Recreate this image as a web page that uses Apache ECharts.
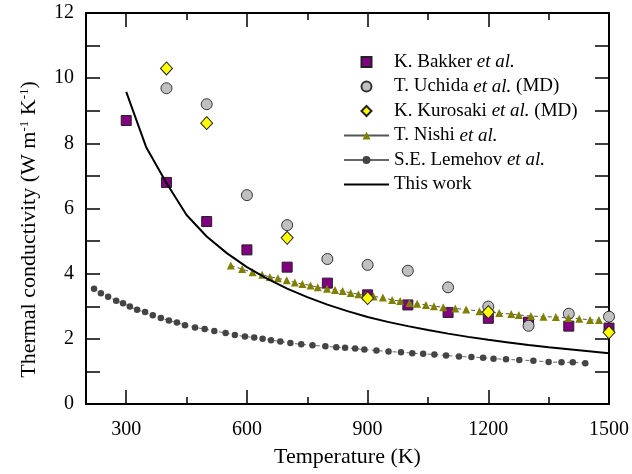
<!DOCTYPE html>
<html>
<head>
<meta charset="utf-8">
<script src="https://cdn.jsdelivr.net/npm/echarts@6/dist/echarts.min.js"></script>
<style>
  html, body { margin: 0; padding: 0; background: #fff; }
  #chart { width: 632px; height: 474px; }
</style>
</head>
<body>
<div id="chart"></div>
<script>
// Thermal conductivity vs temperature: measured, MD and model data
const bakkerT = [300, 400, 500, 600, 700, 800, 900, 1000, 1100, 1200, 1300, 1400, 1500];
const bakkerK = [8.70, 6.80, 5.60, 4.73, 4.20, 3.71, 3.35, 3.04, 2.81, 2.63, 2.51, 2.39, 2.33];

const uchidaT = [400, 500, 600, 700, 800, 900, 1000, 1100, 1200, 1300, 1400, 1500];
const uchidaK = [9.69, 9.20, 6.41, 5.49, 4.45, 4.27, 4.09, 3.58, 2.99, 2.40, 2.77, 2.68];

const kurosakiT = [400, 500, 700, 900, 1200, 1500];
const kurosakiK = [10.30, 8.62, 5.10, 3.25, 2.82, 2.20];

const nishiT = [560, 588, 614, 638, 657, 677, 699, 719, 738, 758, 776, 799, 819, 838, 858,
  877, 895, 915, 938, 961, 981, 1004, 1023, 1045, 1065, 1088, 1118, 1145, 1178, 1201,
  1227, 1257, 1276, 1306, 1337, 1368, 1399, 1426, 1453, 1475];
const nishiK = [4.25, 4.14, 4.04, 3.97, 3.90, 3.86, 3.80, 3.73, 3.68, 3.64, 3.58, 3.54, 3.50, 3.47, 3.41,
  3.37, 3.33, 3.30, 3.27, 3.19, 3.16, 3.10, 3.08, 3.04, 3.00, 2.97, 2.93, 2.90, 2.85, 2.82,
  2.79, 2.76, 2.73, 2.70, 2.68, 2.67, 2.64, 2.62, 2.58, 2.58];

const lemehovT = [220, 237, 255, 275, 292, 309, 327, 347, 366, 386, 406, 426, 446, 471, 495,
  519, 547, 570, 595, 618, 639, 660, 683, 708, 735, 763, 795, 822, 844, 869, 892, 922,
  952, 983, 1011, 1038, 1066, 1095, 1127, 1158, 1187, 1213, 1244, 1277, 1312, 1350,
  1382, 1410, 1441];
const lemehovK = [3.54, 3.40, 3.29, 3.17, 3.09, 2.99, 2.89, 2.82, 2.72, 2.64, 2.56, 2.50, 2.42, 2.35, 2.30,
  2.24, 2.18, 2.12, 2.07, 2.04, 2.00, 1.96, 1.92, 1.87, 1.83, 1.80, 1.77, 1.74, 1.73, 1.70, 1.67, 1.64,
  1.61, 1.59, 1.56, 1.54, 1.52, 1.49, 1.46, 1.44, 1.42, 1.39, 1.37, 1.35, 1.33, 1.29,
  1.28, 1.28, 1.25];

const workT = [300, 350, 400, 450, 500, 550, 600, 650, 700, 750, 800, 850, 900, 950, 1000,
  1050, 1100, 1150, 1200, 1250, 1300, 1350, 1400, 1450, 1500];
const workK = [9.58, 7.87, 6.78, 5.80, 5.14, 4.63, 4.20, 3.85, 3.54, 3.28, 3.05, 2.85, 2.67, 2.52, 2.39,
  2.27, 2.16, 2.06, 1.97, 1.89, 1.81, 1.74, 1.68, 1.62, 1.56];

const xMajor = [300, 600, 900, 1200, 1500];
const xMinor = [450, 750, 1050, 1350];

const seriesNames = [
  'K. Bakker et al.',
  'T. Uchida et al. (MD)',
  'K. Kurosaki et al. (MD)',
  'T. Nishi et al.',
  'S.E. Lemehov et al.',
  'This work'
];

// legend icons that keep their aspect inside the wide icon box
const legendIcons = [
  'path://M0,0L10,0L10,10L0,10Z',
  null,
  'path://M6,0L12,6L6,12L0,6Z',
  null,
  null,
  'path://M0,0L45,0L45,2L0,2Z'
];

const pairs = (xs, ys) => xs.map((x, i) => [x, ys[i]]);

const FONT = "'Liberation Serif', 'Times New Roman', serif";

const chart = echarts.init(document.getElementById('chart'), null, { renderer: 'canvas' });

const axisLineStyle = { color: '#000', width: 2 };

function xAxisDef(position, ticks, len, showLine, showLabel) {
  return {
    type: 'value',
    position: position,
    min: 200,
    max: 1500,
    splitLine: { show: false },
    axisLine: { show: showLine, onZero: false, lineStyle: axisLineStyle },
    axisTick: { show: true, inside: true, length: len, customValues: ticks, lineStyle: { color: '#000', width: 1.5 } },
    axisLabel: {
      show: showLabel, customValues: ticks, margin: 16,
      fontFamily: FONT, fontSize: 20, color: '#000',
      formatter: v => String(v)
    }
  };
}

const option = {
  animation: false,
  backgroundColor: '#fff',
  grid: { left: 86, right: 23, top: 13, bottom: 70, containLabel: false },
  legend: {
    orient: 'vertical',
    left: 343,
    top: 52,
    padding: 0,
    itemWidth: 45,
    itemHeight: 10,
    itemGap: 4.5,
    symbolKeepAspect: true,
    data: seriesNames.map((n, i) => {
      const d = { name: n, lineStyle: { type: 'solid' } };
      if (legendIcons[i]) d.icon = legendIcons[i];
      return d;
    }),
    formatter: function (name) {
      const parts = name.split('et al.');
      if (parts.length === 1) return '{n|' + name + '}';
      let s = '{n|' + parts[0] + '}{i|et al.}';
      if (parts[1]) s += '{n|' + parts[1] + '}';
      return s;
    },
    textStyle: {
      fontFamily: FONT, fontSize: 19, color: '#000', lineHeight: 20,
      rich: {
        n: { fontFamily: FONT, fontSize: 19, color: '#000', lineHeight: 20 },
        i: { fontFamily: FONT, fontSize: 19, color: '#000', fontStyle: 'italic', lineHeight: 20 }
      }
    }
  },
  xAxis: [
    Object.assign(xAxisDef('bottom', xMajor, 14, true, true), {
      name: 'Temperature (K)',
      nameLocation: 'middle',
      nameGap: 42,
      nameTextStyle: { fontFamily: FONT, fontSize: 22, color: '#000' }
    }),
    xAxisDef('bottom', xMinor, 7, false, false),
    xAxisDef('top', xMajor, 14, true, false),
    xAxisDef('top', xMinor, 7, false, false)
  ],
  yAxis: [
    {
      type: 'value',
      position: 'left',
      min: 0,
      max: 12,
      interval: 1,
      splitLine: { show: false },
      axisLine: { show: true, onZero: false, lineStyle: axisLineStyle },
      axisTick: { inside: true, length: 14, lineStyle: { color: '#000', width: 1.5 } },
      axisLabel: {
        margin: 12,
        fontFamily: FONT, fontSize: 20, color: '#000',
        formatter: v => (v % 2 === 0 ? String(v) : '')
      },
      name: 'Thermal conductivity (W m{sup|-1} K{sup|-1})',
      nameLocation: 'middle',
      nameRotate: 90,
      nameGap: 45,
      nameTextStyle: {
        fontFamily: FONT, fontSize: 22, color: '#000',
        padding: [0, 42, 0, 0],
        rich: {
          sup: { fontFamily: FONT, fontSize: 13, color: '#000', verticalAlign: 'top', padding: [0, 0, 10, 0] }
        }
      }
    },
    {
      type: 'value',
      position: 'right',
      min: 0,
      max: 12,
      interval: 1,
      splitLine: { show: false },
      axisLine: { show: true, onZero: false, lineStyle: axisLineStyle },
      axisTick: { inside: true, length: 14, lineStyle: { color: '#000', width: 1.5 } },
      axisLabel: { show: false }
    }
  ],
  series: [
    {
      name: seriesNames[0],
      type: 'scatter',
      symbol: 'rect',
      symbolSize: 10,
      itemStyle: { color: '#800080', borderColor: '#222', borderWidth: 1, opacity: 1 },
      data: pairs(bakkerT, bakkerK),
      z: 3
    },
    {
      name: seriesNames[1],
      type: 'scatter',
      symbol: 'circle',
      symbolSize: 11,
      itemStyle: { color: '#c0c0c0', borderColor: '#333', borderWidth: 1, opacity: 1 },
      data: pairs(uchidaT, uchidaK),
      z: 4
    },
    {
      name: seriesNames[2],
      type: 'scatter',
      symbol: 'diamond',
      symbolSize: [12, 13],
      itemStyle: { color: '#ffff00', borderColor: '#222', borderWidth: 1, opacity: 1 },
      data: pairs(kurosakiT, kurosakiK),
      z: 6
    },
    {
      name: seriesNames[3],
      type: 'line',
      symbol: 'triangle',
      symbolSize: 8,
      showAllSymbol: true,
      itemStyle: { color: '#808000' },
      lineStyle: { color: '#555', width: 1, type: [4, 3] },
      data: pairs(nishiT, nishiK),
      z: 5
    },
    {
      name: seriesNames[4],
      type: 'line',
      symbol: 'circle',
      symbolSize: 6.5,
      showAllSymbol: true,
      itemStyle: { color: '#444' },
      lineStyle: { color: '#666', width: 1, type: [4, 3] },
      data: pairs(lemehovT, lemehovK),
      z: 5
    },
    {
      name: seriesNames[5],
      type: 'line',
      symbol: 'none',
      itemStyle: { color: '#000' },
      lineStyle: { color: '#000', width: 2 },
      data: pairs(workT, workK),
      z: 7
    }
  ]
};

chart.setOption(option);
</script>
</body>
</html>
